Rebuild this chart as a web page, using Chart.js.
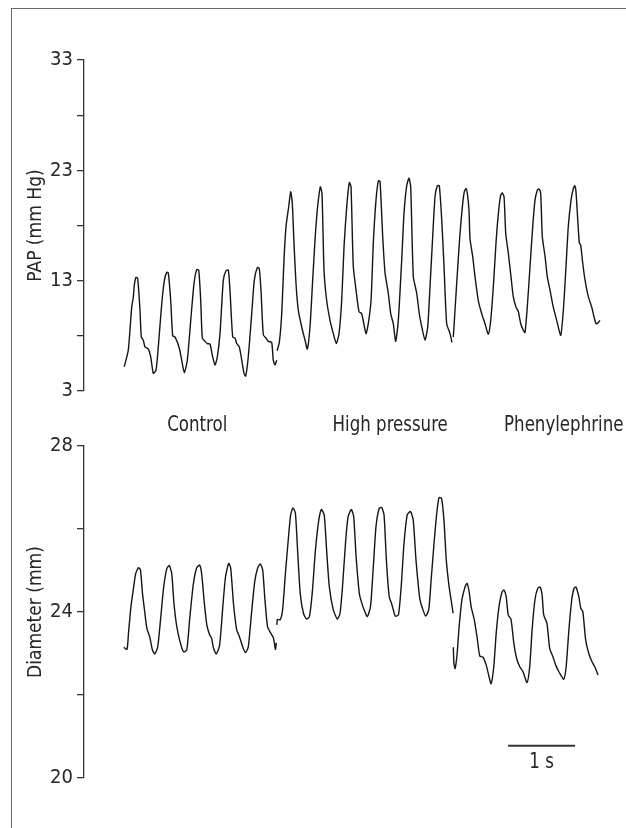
<!DOCTYPE html>
<html>
<head>
<meta charset="utf-8">
<script src="https://cdn.jsdelivr.net/npm/chart.js@4.4.1/dist/chart.umd.min.js"></script>
<style>
  body { margin: 0; background: #fff; }
  #wrap { position: relative; width: 626px; height: 828px; overflow: hidden; }
  #frame { position: absolute; left: 11px; top: 8px; right: -5px; bottom: -5px;
           border-top: 1.5px solid #6a6a6a; border-left: 1.5px solid #6a6a6a; }
  canvas { position: absolute; left: 0; top: 0; }
</style>
</head>
<body>
<div id="wrap">
  <div id="frame"></div>
  <canvas id="papChart" width="626" height="828"></canvas>
  <canvas id="diaChart" width="626" height="828"></canvas>
</div>
<script>
// Segment labels and where they sit (time in s, level in mm)
const segmentNames = ['Control', 'High pressure', 'Phenylephrine'];
const segmentLabelTime = [1.69, 4.57, 7.16];
const segmentLabelLevel = 28.5;

// Axis ticks
const papTicks = [3, 8, 13, 18, 23, 28, 33];
const papTickLabels = ['3', '', '13', '', '23', '', '33'];
const diaTicks = [20, 22, 24, 26, 28];
const diaTickLabels = ['20', '', '24', '', '28'];

// Time window (s) and the 1 s scale bar
const timeMin = 0;
const timeMax = 7.94;
const scaleBarTime = [6.33, 7.33];
const scaleBarLevel = 20.78;
const scaleBarText = '1 s';
const scaleBarTextLevel = 20.37;

// PAP (mm Hg) traces, time in s
const papControlT = [
  0.601, 0.661, 0.712, 0.736, 0.751, 0.776, 0.801, 0.836, 0.855, 0.885, 0.910, 0.960, 0.996, 1.034, 1.075,
  1.109, 1.160, 1.199, 1.234, 1.258, 1.294, 1.324, 1.358, 1.422, 1.458, 1.497,
  1.542, 1.593, 1.642, 1.682, 1.712, 1.742, 1.766, 1.806, 1.840, 1.881, 1.915, 1.955,
  1.990, 2.030, 2.079, 2.119, 2.154, 2.179, 2.219, 2.254, 2.279, 2.318, 2.354, 2.388, 2.413,
  2.452, 2.503, 2.542, 2.587, 2.616, 2.642, 2.676, 2.716, 2.751, 2.801, 2.825, 2.851, 2.876
];
const papControl = [
  5.2, 6.7, 10.6, 11.5, 12.6, 13.3, 13.2, 10.3, 7.9, 7.6, 7.0, 6.8, 6.1, 4.6, 4.9,
  7.0, 10.9, 13.0, 13.75, 13.7, 11.2, 8.0, 7.9, 6.9, 5.8, 4.65,
  5.8, 9.4, 12.75, 14.0, 13.95, 11.2, 7.8, 7.5, 7.3, 7.25, 6.25, 5.35,
  6.1, 8.2, 13.05, 13.9, 13.95, 12.1, 7.9, 7.8, 7.3, 7.0, 5.8, 4.6, 4.35,
  6.1, 10.0, 13.05, 14.2, 14.1, 12.1, 8.1, 7.8, 7.5, 7.4, 5.8, 5.35, 5.8
];

const papHighT = [
  2.882, 2.915, 2.951, 2.985, 3.015, 3.055, 3.085, 3.109, 3.134, 3.164, 3.199, 3.249, 3.299, 3.333,
  3.373, 3.413, 3.448, 3.482, 3.527, 3.552, 3.582, 3.622, 3.672, 3.721, 3.766,
  3.806, 3.846, 3.881, 3.921, 3.960, 3.985, 4.019, 4.060, 4.104, 4.145, 4.209,
  4.243, 4.284, 4.318, 4.358, 4.393, 4.418, 4.458, 4.493, 4.542, 4.578, 4.616, 4.652,
  4.691, 4.742, 4.776, 4.816, 4.851, 4.876, 4.915, 4.966, 5.004, 5.045, 5.090,
  5.130, 5.164, 5.199, 5.239, 5.273, 5.303, 5.339, 5.373, 5.413, 5.463, 5.493
];
const papHigh = [
  6.65, 7.4, 10.0, 14.9, 17.9, 19.7, 21.05, 20.0, 16.4, 12.75, 10.3, 8.8, 7.6, 6.8,
  8.8, 13.05, 16.7, 19.4, 21.5, 20.9, 13.95, 11.2, 9.4, 8.2, 7.3,
  8.2, 11.2, 16.1, 19.7, 21.9, 21.5, 14.3, 12.15, 10.2, 10.0, 8.2,
  9.1, 11.2, 16.4, 20.3, 22.05, 22.0, 17.0, 13.7, 11.85, 10.0, 9.1, 7.5,
  9.4, 14.9, 19.1, 21.6, 22.3, 21.5, 13.35, 11.85, 10.0, 8.7, 7.6,
  8.8, 12.45, 16.4, 20.6, 21.6, 21.6, 18.5, 14.3, 9.1, 8.2, 7.4
];

const papPhenT = [
  5.512, 5.537, 5.572, 5.612, 5.652, 5.676, 5.701, 5.721, 5.746, 5.761, 5.801, 5.836, 5.885, 5.936, 5.985, 6.034,
  6.070, 6.109, 6.149, 6.184, 6.219, 6.243, 6.269, 6.294, 6.333, 6.373, 6.407, 6.448, 6.482, 6.518, 6.557, 6.582,
  6.616, 6.657, 6.697, 6.731, 6.766, 6.791, 6.816, 6.840, 6.881, 6.915, 6.955, 7.004, 7.055, 7.115,
  7.154, 7.194, 7.228, 7.269, 7.303, 7.324, 7.343, 7.369, 7.393, 7.413, 7.443, 7.478, 7.527, 7.578, 7.612, 7.642, 7.667, 7.701
];
const papPhen = [
  7.9, 10.3, 13.65, 17.3, 20.0, 21.05, 21.35, 20.9, 19.4, 16.8, 15.2, 13.35, 11.2, 10.0, 9.1, 8.15,
  9.4, 12.45, 16.4, 19.05, 20.75, 20.95, 20.6, 17.3, 15.5, 13.35, 11.55, 10.6, 10.2, 9.1, 8.5, 8.3,
  10.6, 14.3, 17.9, 20.3, 21.2, 21.3, 20.9, 17.0, 15.2, 13.35, 12.15, 10.6, 9.4, 8.05,
  10.3, 14.3, 17.9, 20.3, 21.35, 21.6, 21.05, 18.5, 16.4, 16.25, 14.6, 13.05, 11.55, 10.6, 9.7, 9.1, 9.15, 9.4
];

// Diameter (mm) traces, time in s
const diaControlT = [
  0.594, 0.642, 0.664, 0.701, 0.742, 0.772, 0.813, 0.843, 0.873, 0.903, 0.939, 0.981, 1.022, 1.058,
  1.100, 1.142, 1.190, 1.237, 1.273, 1.309, 1.343, 1.385, 1.439, 1.487,
  1.534, 1.576, 1.630, 1.678, 1.725, 1.755, 1.797, 1.833, 1.875, 1.904, 1.934, 1.976,
  2.024, 2.072, 2.112, 2.160, 2.190, 2.231, 2.279, 2.321, 2.369, 2.410,
  2.452, 2.500, 2.548, 2.590, 2.631, 2.667, 2.697, 2.739, 2.787, 2.828, 2.857, 2.869
];
const diaControl = [
  23.15, 23.1, 23.49, 24.13, 24.61, 24.93, 25.07, 25.01, 24.45, 24.05, 23.6, 23.4, 23.08, 22.99,
  23.16, 23.81, 24.61, 25.05, 25.12, 24.93, 24.2, 23.65, 23.25, 23.04,
  23.08, 23.81, 24.65, 25.05, 25.13, 24.93, 24.2, 23.69, 23.45, 23.37, 23.12, 22.99,
  23.2, 24.13, 24.85, 25.17, 25.05, 24.2, 23.57, 23.4, 23.16, 23.02,
  23.16, 23.97, 24.73, 25.05, 25.16, 25.01, 24.37, 23.65, 23.49, 23.37, 23.1, 23.26
];

const diaHighT = [
  2.878, 2.887, 2.928, 2.964, 3.006, 3.048, 3.084, 3.119, 3.155, 3.185, 3.227, 3.275, 3.322,
  3.364, 3.406, 3.454, 3.501, 3.543, 3.585, 3.621, 3.661, 3.721, 3.781,
  3.822, 3.858, 3.906, 3.942, 3.990, 4.025, 4.061, 4.109, 4.139, 4.181, 4.228,
  4.276, 4.318, 4.358, 4.406, 4.442, 4.478, 4.513, 4.555, 4.597, 4.645,
  4.693, 4.734, 4.776, 4.824, 4.872, 4.913, 4.955, 4.991, 5.015, 5.051, 5.099,
  5.145, 5.181, 5.228, 5.270, 5.300, 5.336, 5.372, 5.407, 5.449, 5.479, 5.509
];
const diaHigh = [
  23.69, 23.82, 23.81, 24.05, 24.93, 25.73, 26.34, 26.51, 26.38, 25.57, 24.45, 23.97, 23.83,
  23.89, 24.45, 25.49, 26.18, 26.47, 26.34, 25.49, 24.61, 24.05, 23.83,
  23.97, 24.61, 25.73, 26.3, 26.47, 26.3, 25.33, 24.45, 24.25, 24.05, 23.89,
  24.13, 25.09, 26.06, 26.5, 26.52, 26.34, 25.25, 24.37, 24.17, 23.9,
  23.93, 24.61, 25.65, 26.34, 26.42, 26.22, 25.25, 24.61, 24.29, 24.09, 23.9,
  24.05, 24.77, 25.73, 26.46, 26.76, 26.74, 26.22, 25.25, 24.61, 24.29, 23.97
];

const diaPhenT = [
  5.512, 5.521, 5.539, 5.569, 5.599, 5.640, 5.688, 5.718, 5.748, 5.778, 5.825, 5.866, 5.907, 5.955, 6.003, 6.045, 6.075,
  6.116, 6.152, 6.194, 6.236, 6.266, 6.301, 6.331, 6.373, 6.415, 6.457, 6.504, 6.552, 6.612,
  6.652, 6.688, 6.730, 6.772, 6.807, 6.837, 6.861, 6.909, 6.951, 6.999, 7.040, 7.088, 7.160,
  7.196, 7.237, 7.279, 7.313, 7.343, 7.385, 7.415, 7.445, 7.487, 7.534, 7.582, 7.624, 7.672
];
const diaPhen = [
  23.15, 22.76, 22.64, 23.0, 23.65, 24.29, 24.61, 24.69, 24.49, 24.13, 23.81, 23.4, 22.94, 22.91, 22.72, 22.44, 22.27,
  22.68, 23.49, 24.13, 24.47, 24.53, 24.37, 23.93, 23.82, 23.25, 22.88, 22.68, 22.56, 22.3,
  22.68, 23.57, 24.29, 24.57, 24.6, 24.41, 23.93, 23.73, 23.12, 22.92, 22.72, 22.56, 22.38,
  22.68, 23.57, 24.29, 24.57, 24.6, 24.37, 24.09, 24.01, 23.33, 23.0, 22.8, 22.68, 22.48
];

const FONT = "'Liberation Sans Narrow', 'DejaVu Sans Condensed', 'Liberation Sans', sans-serif";
const TEXT = '#262626';
const AXIS_W = 84;
const LABEL_SQUEEZE = 0.88;   // the figure uses a condensed face

Chart.defaults.font.family = FONT;
Chart.defaults.color = TEXT;

function makeSeries(t, v) {
  return t.map((x, i) => ({ x: x, y: v[i] }));
}

function traceDataset(t, v) {
  return {
    data: makeSeries(t, v),
    borderColor: '#151515',
    borderWidth: 1.4,
    pointRadius: 0,
    tension: 0.2,
    fill: false
  };
}

function yAxis(min, max, ticks, labels, title) {
  return {
    type: 'linear',
    min: min,
    max: max,
    afterFit: function (scale) { scale.width = AXIS_W; },
    afterBuildTicks: function (scale) { scale.ticks = ticks.map(v => ({ value: v })); },
    ticks: {
      autoSkip: false,
      padding: 4,
      color: TEXT,
      font: { size: 20 },
      callback: (value, index) => labels[index]
    },
    grid: { drawOnChartArea: false, drawTicks: true, tickLength: 7, color: '#333', lineWidth: 1.3 },
    border: { display: true, color: '#333', width: 1.3 },
    title: { display: true, text: title, color: TEXT, font: { size: 19 }, padding: { top: 25, bottom: 0 } }
  };
}

function baseOptions(pad, yScale) {
  return {
    responsive: false,
    animation: false,
    events: [],
    layout: { padding: pad },
    plugins: { legend: { display: false }, tooltip: { enabled: false } },
    scales: {
      x: { type: 'linear', display: false, min: timeMin, max: timeMax },
      y: yScale
    }
  };
}

// Text that belongs to the lower panel: segment names and the scale bar label
const panelText = {
  id: 'panelText',
  afterDraw(chart) {
    const { ctx, scales: { x, y } } = chart;
    const put = (txt, px, py) => {
      ctx.save();
      ctx.translate(px, py);
      ctx.scale(LABEL_SQUEEZE, 1);
      ctx.fillText(txt, 0, 0);
      ctx.restore();
    };
    ctx.save();
    ctx.font = '21px ' + FONT;
    ctx.fillStyle = TEXT;
    ctx.textAlign = 'center';
    ctx.textBaseline = 'middle';
    segmentNames.forEach((name, i) => {
      put(name, x.getPixelForValue(segmentLabelTime[i]), y.getPixelForValue(segmentLabelLevel));
    });
    const mid = (scaleBarTime[0] + scaleBarTime[1]) / 2;
    put(scaleBarText, x.getPixelForValue(mid), y.getPixelForValue(scaleBarTextLevel));
    ctx.restore();
  }
};

new Chart(document.getElementById('papChart'), {
  type: 'line',
  data: {
    datasets: [
      traceDataset(papControlT, papControl),
      traceDataset(papHighT, papHigh),
      traceDataset(papPhenT, papPhen)
    ]
  },
  options: baseOptions({ top: 60, bottom: 437, left: 0, right: 10 },
    yAxis(3, 33, papTicks, papTickLabels, 'PAP (mm Hg)'))
});

new Chart(document.getElementById('diaChart'), {
  type: 'line',
  data: {
    datasets: [
      traceDataset(diaControlT, diaControl),
      traceDataset(diaHighT, diaHigh),
      traceDataset(diaPhenT, diaPhen),
      {
        data: scaleBarTime.map(t => ({ x: t, y: scaleBarLevel })),
        borderColor: '#333',
        borderWidth: 2,
        pointRadius: 0,
        fill: false
      }
    ]
  },
  options: baseOptions({ top: 446, bottom: 50, left: 0, right: 10 },
    yAxis(20, 28, diaTicks, diaTickLabels, 'Diameter (mm)')),
  plugins: [panelText]
});
</script>
</body>
</html>
